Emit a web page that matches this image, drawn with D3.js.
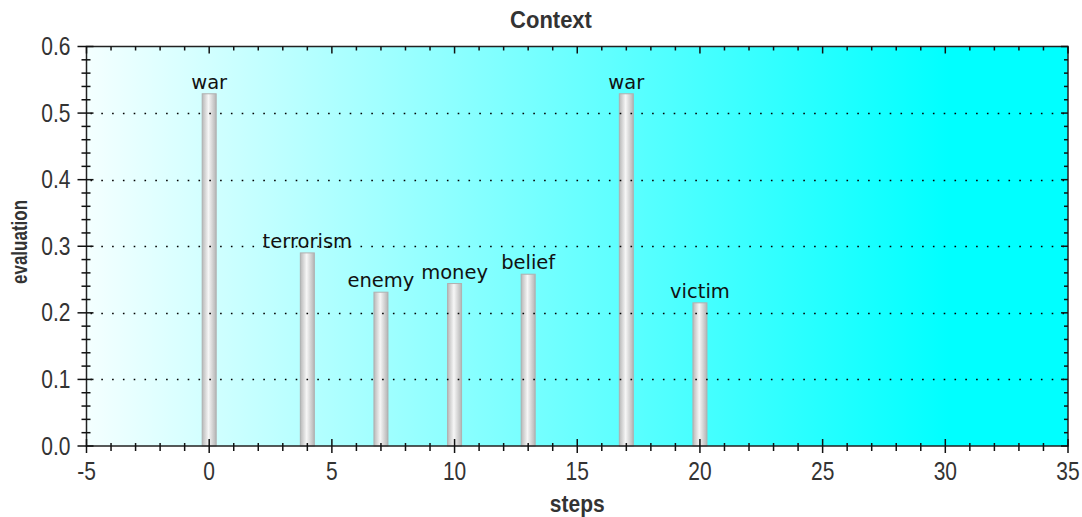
<!DOCTYPE html>
<html><head><meta charset="utf-8">
<script src="https://cdn.jsdelivr.net/npm/d3@7"></script>
<style>
html,body{margin:0;padding:0;background:#fff;}
svg{display:block;}
text{font-family:"Liberation Sans",Arial,sans-serif;}
</style></head>
<body>
<svg id="chart" width="1082" height="517"></svg>
<script>
const steps = [0, 4, 7, 10, 13, 17, 20];
const words = ["war", "terrorism", "enemy", "money", "belief", "war", "victim"];
const evaluation = [0.529, 0.29, 0.231, 0.244, 0.258, 0.529, 0.215];
const xTicks = [-5, 0, 5, 10, 15, 20, 25, 30, 35];
const yTicks = [0.0, 0.1, 0.2, 0.3, 0.4, 0.5, 0.6];

const svg = d3.select("#chart");
const L = 86.5, R = 1068, T = 46.5, B = 446;
const x = d3.scaleLinear().domain([-5, 35]).range([L, R]);
const y = d3.scaleLinear().domain([0, 0.6]).range([B, T]);

const defs = svg.append("defs");
const bg = defs.append("linearGradient").attr("id", "bg").attr("x1", 0).attr("x2", 1).attr("y1", 0).attr("y2", 0);
bg.append("stop").attr("offset", "0%").attr("stop-color", "#f4ffff");
bg.append("stop").attr("offset", "88%").attr("stop-color", "#00ffff");
bg.append("stop").attr("offset", "100%").attr("stop-color", "#00ffff");

const bar = defs.append("linearGradient").attr("id", "bar").attr("x1", 0).attr("x2", 1).attr("y1", 0).attr("y2", 0);
bar.append("stop").attr("offset", "0%").attr("stop-color", "#b8b8b8");
bar.append("stop").attr("offset", "45%").attr("stop-color", "#f6f6f6");
bar.append("stop").attr("offset", "100%").attr("stop-color", "#b4b4b4");

svg.append("rect").attr("x", L).attr("y", T).attr("width", R - L).attr("height", B - T).attr("fill", "url(#bg)");

// bars
const bw = 14;
svg.append("g").selectAll("rect").data(steps).join("rect")
  .attr("x", (d) => x(d) - bw / 2).attr("y", (d, i) => y(evaluation[i]))
  .attr("width", bw).attr("height", (d, i) => B - y(evaluation[i]))
  .attr("fill", "url(#bar)").attr("stroke", "#b0b0b0").attr("stroke-width", 1);

// labels
svg.append("g").selectAll("text").data(steps).join("text")
  .attr("x", d => x(d)).attr("y", (d, i) => y(evaluation[i]) - 5)
  .attr("text-anchor", "middle").attr("font-size", 19.5).attr("fill", "#111")
  .style("font-family", "'DejaVu Sans', sans-serif")
  .text((d, i) => words[i]);

// grid (drawn over labels, as in reference)
svg.append("g").selectAll("line").data(yTicks.filter(d => d > 0 && d < 0.6)).join("line")
  .attr("x1", L + 4).attr("x2", R).attr("y1", d => Math.round(y(d)) + 0.5).attr("y2", d => Math.round(y(d)) + 0.5)
  .attr("stroke", "#000").attr("stroke-width", 1.6).attr("stroke-dasharray", "1.6 9.2");

// axes
const ax = svg.append("g").attr("stroke", "#111").attr("stroke-width", 1.5);
ax.append("rect").attr("x", L).attr("y", T).attr("width", R - L).attr("height", B - T).attr("fill", "none").attr("stroke", "#222");
const xMinor = d3.range(-5, 35.1, 1);
xMinor.forEach(v => {
  const major = v % 5 === 0;
  const px = x(v);
  ax.append("line").attr("x1", px).attr("x2", px).attr("y1", major ? B - 7 : B - 3).attr("y2", major ? B + 7 : B + 5);
  ax.append("line").attr("x1", px).attr("x2", px).attr("y1", T).attr("y2", major ? T + 7 : T + 4);
});
const yMinor = d3.range(0, 0.6001, 0.02);
yMinor.forEach(v => {
  const major = Math.abs(Math.round(v * 10) - v * 10) < 1e-6;
  const py = y(v);
  ax.append("line").attr("y1", py).attr("y2", py).attr("x1", major ? L - 9 : L - 5).attr("x2", major ? L + 7 : L + 4);
  ax.append("line").attr("y1", py).attr("y2", py).attr("x1", R).attr("x2", major ? R - 7 : R - 4);
});

svg.append("g").selectAll("text").data(xTicks).join("text")
  .attr("transform", d => `translate(${x(d)},${B + 34}) scale(1,1.2)`).attr("text-anchor", "middle")
  .attr("font-size", 21).attr("fill", "#333").text(d => d);
svg.append("g").selectAll("text").data(yTicks).join("text")
  .attr("transform", d => `translate(${L - 16},${y(d) + 8.5}) scale(1,1.2)`).attr("text-anchor", "end")
  .attr("font-size", 21).attr("fill", "#333").text(d => d.toFixed(1));

svg.append("text").attr("transform", "translate(551,28) scale(1,1.1)").attr("text-anchor", "middle")
  .attr("font-size", 22).attr("font-weight", "bold").attr("fill", "#333").text("Context");
svg.append("text").attr("transform", `translate(${(L + R) / 2},512) scale(1,1.1)`).attr("text-anchor", "middle")
  .attr("font-size", 21).attr("font-weight", "bold").attr("fill", "#333").text("steps");
svg.append("text").attr("transform", `translate(27,242) rotate(-90) scale(1,1.3)`).attr("text-anchor", "middle")
  .attr("font-size", 17).attr("font-weight", "bold").attr("fill", "#333").text("evaluation");
</script>
</body></html>
